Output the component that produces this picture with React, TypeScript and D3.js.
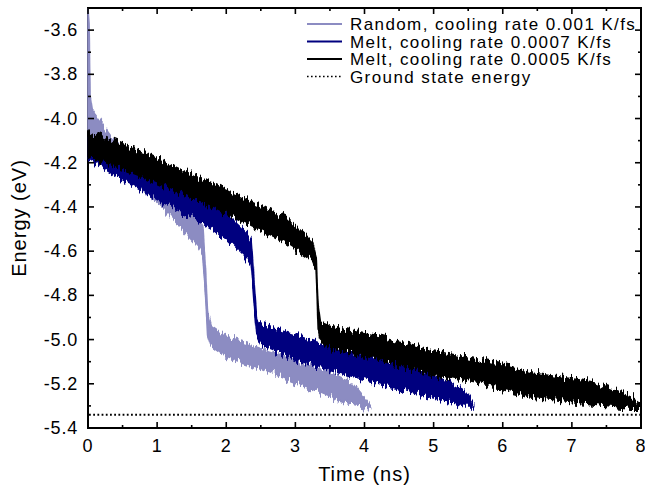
import React from "react";
import * as d3 from "d3";

// ---------- data ----------
const seriesNames = [
  "Random, cooling rate 0.001 K/fs",
  "Melt, cooling rate 0.0007 K/fs",
  "Melt, cooling rate 0.0005 K/fs",
];
const groundStateLabel = "Ground state energy";
const groundStateEnergy = -5.34;

// Random, 0.001 K/fs : time (ns), upper / lower envelope of the noisy trace (eV)
const randomTime = [0, 0.015, 0.03, 0.06, 0.1, 0.4, 0.8, 1.2, 1.6, 1.66, 1.7, 1.73, 1.78, 2.0, 2.5, 3.0, 3.5, 3.8, 4.09];
const randomUpper = [-3.5, -3.56, -3.9, -3.96, -3.98, -4.11, -4.21, -4.32, -4.46, -4.49, -4.68, -4.88, -4.94, -4.99, -5.04, -5.09, -5.15, -5.19, -5.3];
const randomLower = [-4.05, -4.06, -4.07, -4.08, -4.1, -4.21, -4.32, -4.44, -4.58, -4.61, -4.8, -4.98, -5.03, -5.08, -5.13, -5.19, -5.26, -5.29, -5.31];

// Melt, 0.0007 K/fs
const melt07Time = [0, 0.3, 0.9, 1.65, 2.0, 2.3, 2.36, 2.4, 2.44, 2.5, 3.0, 3.5, 4.0, 4.7, 5.2, 5.45, 5.58];
const melt07Upper = [-4.08, -4.15, -4.25, -4.36, -4.43, -4.52, -4.55, -4.72, -4.9, -4.93, -4.98, -5.03, -5.07, -5.12, -5.19, -5.23, -5.29];
const melt07Lower = [-4.18, -4.24, -4.35, -4.47, -4.54, -4.63, -4.65, -4.82, -4.98, -5.02, -5.09, -5.14, -5.18, -5.24, -5.28, -5.3, -5.3];

// Melt, 0.0005 K/fs
const melt05Time = [0, 0.93, 1.89, 2.86, 3.25, 3.3, 3.33, 3.36, 3.5, 4.23, 4.96, 5.68, 6.4, 7.27, 7.85, 8.03];
const melt05Upper = [-4.06, -4.17, -4.31, -4.45, -4.56, -4.62, -4.85, -4.92, -4.94, -4.99, -5.05, -5.09, -5.15, -5.19, -5.26, -5.3];
const melt05Lower = [-4.17, -4.28, -4.41, -4.56, -4.64, -4.68, -4.95, -5.0, -5.04, -5.09, -5.16, -5.2, -5.26, -5.29, -5.31, -5.31];

const xTickLabels = [0, 1, 2, 3, 4, 5, 6, 7, 8];
const yTickLabels = [-3.6, -3.8, -4.0, -4.2, -4.4, -4.6, -4.8, -5.0, -5.2, -5.4];

const colors = ["#8c8cc2", "#00007f", "#000000"];

// ---------- layout ----------
const W = 645;
const H = 493;
const left = 88;
const right = 641;
const top = 8;
const bottom = 428;
const FONT = "'Liberation Sans', Arial, Helvetica, sans-serif";

const fmtY = (v: number) => d3.format(".1f")(v).replace("\u2212", "-");

export default function App() {
  const x = d3.scaleLinear().domain([0, 8]).range([left, right]);
  const y = d3.scaleLinear().domain([-5.4, -3.5]).range([bottom, top]);

  const build = (t: number[], hi: number[], lo: number[]) =>
    t.map((v, i) => ({ t: v, hi: hi[i], lo: lo[i] }));
  const series = [
    build(randomTime, randomUpper, randomLower),
    build(melt07Time, melt07Upper, melt07Lower),
    build(melt05Time, melt05Upper, melt05Lower),
  ];
  const area = d3
    .area<{ t: number; hi: number; lo: number }>()
    .x((d) => x(d.t))
    .y0((d) => y(d.lo))
    .y1((d) => y(d.hi));

  const xMinor = d3.range(0, 8.001, 0.5);
  const yMinor = d3.range(-5.4, -3.499, 0.1);
  const majorLen = 6;
  const minorLen = 3;
  const seeds = [3, 11, 27];

  const legendX1 = 307;
  const legendX2 = 342;
  const legendTextX = 350;
  const legendRow0 = 24;
  const legendStep = 17.5;

  return (
    <svg
      width={W}
      height={H}
      style={{ position: "absolute", left: 0, top: 0, background: "#fff" }}
      fontFamily={FONT}
    >
      <defs>
        <clipPath id="plot-clip">
          <rect x={left - 2} y={top} width={right - left + 2} height={bottom - top} />
        </clipPath>
        {seeds.map((s, i) => (
          <filter
            key={i}
            id={`jag-${i}`}
            x="-2%"
            y="-10%"
            width="104%"
            height="120%"
            colorInterpolationFilters="sRGB"
          >
            <feTurbulence type="fractalNoise" baseFrequency="0.45 0.04" numOctaves={2} seed={s} result="n" />
            <feColorMatrix
              in="n"
              type="matrix"
              values="0 0 0 0 0.5  0 1 0 0 0  0 0 0 0 0  0 0 0 0 1"
              result="m"
            />
            <feDisplacementMap in="SourceGraphic" in2="m" scale={16} xChannelSelector="R" yChannelSelector="G" />
          </filter>
        ))}
      </defs>

      <rect x={0} y={0} width={W} height={H} fill="#fff" />

      {/* frame */}
      <rect
        x={left}
        y={top}
        width={right - left}
        height={bottom - top}
        fill="none"
        stroke="#000"
        strokeWidth={2}
      />

      {/* ground state energy */}
      <line
        x1={left + 1}
        x2={right - 1}
        y1={y(groundStateEnergy)}
        y2={y(groundStateEnergy)}
        stroke="#000"
        strokeWidth={1.8}
        strokeDasharray="1.8 2.4"
      />

      {/* data bands */}
      <g clipPath="url(#plot-clip)">
        {series.map((s, i) => (
          <path
            key={i}
            d={area(s) || ""}
            fill={colors[i]}
            stroke={colors[i]}
            strokeWidth={1.6}
            strokeLinejoin="round"
            filter={`url(#jag-${i})`}
          />
        ))}
      </g>

      {/* ticks */}
      <g stroke="#000" strokeWidth={1.6}>
        {xMinor.map((v, i) => {
          const len = Math.abs(v - Math.round(v)) < 1e-6 ? majorLen : minorLen;
          return (
            <g key={`xt${i}`}>
              <line x1={x(v)} x2={x(v)} y1={bottom} y2={bottom - len} />
              <line x1={x(v)} x2={x(v)} y1={top} y2={top + len} />
            </g>
          );
        })}
        {yMinor.map((v, i) => {
          const isMajor = Math.abs(v * 5 - Math.round(v * 5)) < 1e-6;
          const len = isMajor ? majorLen : minorLen;
          return (
            <g key={`yt${i}`}>
              <line x1={left} x2={left + len} y1={y(v)} y2={y(v)} />
              <line x1={right} x2={right - len} y1={y(v)} y2={y(v)} />
            </g>
          );
        })}
      </g>

      {/* tick labels */}
      <g fontSize={18} fill="#000" letterSpacing={0.8}>
        {xTickLabels.map((v) => (
          <text key={`xl${v}`} x={x(v)} y={bottom + 24} textAnchor="middle">
            {v}
          </text>
        ))}
        {yTickLabels.map((v) => (
          <text key={`yl${v}`} x={left - 10} y={y(v) + 6} textAnchor="end">
            {fmtY(v)}
          </text>
        ))}
      </g>

      {/* axis titles */}
      <text
        x={(left + right) / 2}
        y={H - 12}
        textAnchor="middle"
        fontSize={20}
        letterSpacing={1}
      >
        Time (ns)
      </text>
      <text
        transform={`translate(26, ${(top + bottom) / 2}) rotate(-90)`}
        textAnchor="middle"
        fontSize={20}
        letterSpacing={1}
      >
        Energy (eV)
      </text>

      {/* legend */}
      <g fontSize={17} letterSpacing={1.4}>
        {seriesNames.map((name, i) => (
          <g key={name}>
            <line
              x1={legendX1}
              x2={legendX2}
              y1={legendRow0 + i * legendStep}
              y2={legendRow0 + i * legendStep}
              stroke={colors[i]}
              strokeWidth={2}
            />
            <text x={legendTextX} y={legendRow0 + i * legendStep + 6}>
              {name}
            </text>
          </g>
        ))}
        <line
          x1={legendX1}
          x2={legendX2}
          y1={legendRow0 + 3 * legendStep}
          y2={legendRow0 + 3 * legendStep}
          stroke="#000"
          strokeWidth={1.6}
          strokeDasharray="1.6 2.4"
        />
        <text x={legendTextX} y={legendRow0 + 3 * legendStep + 6}>
          {groundStateLabel}
        </text>
      </g>
    </svg>
  );
}
